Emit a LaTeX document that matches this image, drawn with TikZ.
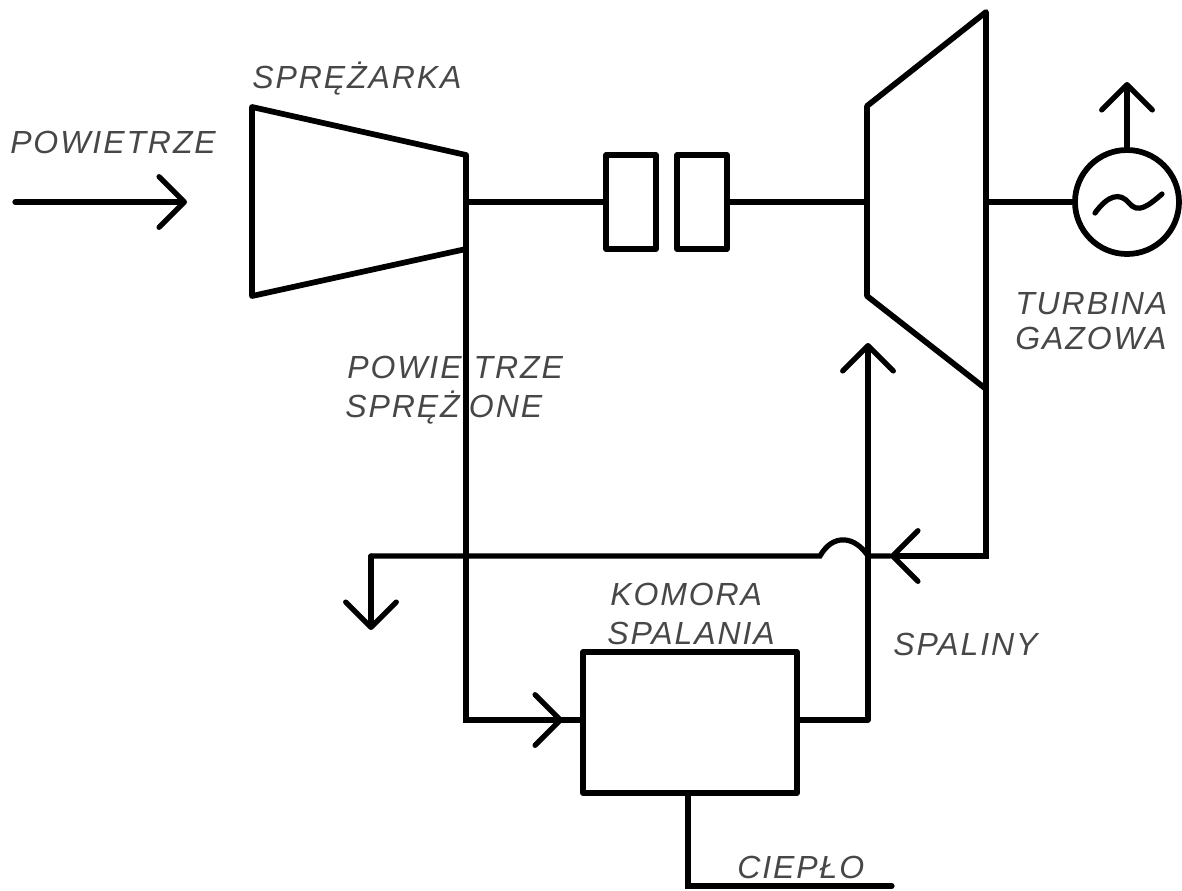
\documentclass[tikz,border=0pt]{standalone}
\usepackage{fontspec}
\usetikzlibrary{arrows.meta}
\newfontfamily\lblfont[ItalicFont={Liberation Sans Italic},LetterSpace=6]{Liberation Sans}
\tikzset{
  pw/.style={line width=4.3pt,line cap=round,line join=round,draw=black},
  thin shaft/.style={line width=3.9pt,line cap=round,draw=black},
  barb/.style={-{Straight Barb[length=19pt,width=38pt,line width=3.9pt,round]}},
  lbl/.style={font=\lblfont\itshape\fontsize{24}{26}\selectfont,text=black!72,inner sep=0pt,anchor=base west},
}
\begin{document}
\begin{tikzpicture}[x=0.75pt,y=-0.75pt]
\useasboundingbox (0,0) rectangle (1182,890);
% labels (below the lines)
\node[lbl] (t1) at (252,88) {SPRĘŻARKA};
\node[lbl] (t2) at (10,153) {POWIETRZE};
\node[lbl] (t3) at (347,378) {POWIE\hspace{9pt}TRZE};
\node[lbl] (t4) at (345,417) {SPRĘŻ\hspace{7pt}ONE};
\node[lbl] (t5) at (1015,314) {TURBINA};
\node[lbl] (t6) at (1015,349) {GAZOWA};
\node[lbl] (t7) at (610,605) {KOMORA};
\node[lbl] (t8) at (607,644) {SPALANIA};
\node[lbl] (t9) at (893,655) {SPALINY};
\node[lbl] (t10) at (737,878) {CIEPŁO};
% compressor
\coordinate (c1) at (252,107);
\coordinate (c2) at (466,155);
\coordinate (c3) at (466,249);
\coordinate (c4) at (252,296);
\draw[pw] (c1) -- (c2) -- (c3) -- (c4) -- cycle;
\coordinate (cs) at (466,202);
% turbine
\coordinate (g1) at (867,106);
\coordinate (g2) at (986,12);
\coordinate (g3) at (986,389);
\coordinate (g4) at (867,296);
\draw[pw] (g1) -- (g2) -- (g3) -- (g4) -- cycle;
\coordinate (gl) at (867,202);
\coordinate (gr) at (986,202);
% clutch boxes
\node[pw,draw,rectangle,inner sep=0pt,minimum width=37.5pt,minimum height=70.5pt] (k1) at (631,202) {};
\node[pw,draw,rectangle,inner sep=0pt,minimum width=37.5pt,minimum height=70.5pt] (k2) at (702,202) {};
% combustor
\node[pw,draw,rectangle,inner sep=0pt,minimum width=160.5pt,minimum height=105.75pt] (kom) at (690,722.5) {};
% generator
\node[pw,draw,circle,inner sep=0pt,minimum size=78pt] (gen) at (1127,202) {};
\draw[thin shaft] (1095,213) .. controls (1108,195) and (1120,192) .. (1129,203) .. controls (1138,214) and (1148,206) .. (1162,194);
% shaft
\draw[thin shaft] (cs) -- (k1.west);
\draw[thin shaft] (k2.east) -- (gl);
\draw[thin shaft] (gr) -- (gen.west);
% generator output
\coordinate (out) at (1127,82);
\draw[thin shaft,barb] (gen.north) -- (out);
% air in
\coordinate (a0) at (15,202);
\coordinate (a1) at (187,202);
\draw[thin shaft,barb] (a0) -- (a1);
% compressed air to combustor
\coordinate (b1) at (466,720);
\coordinate (b2) at (563,720);
\draw[thin shaft] (c3) -- (b1) -- (kom.west |- b1);
\draw[thin shaft,barb] (b1) -- (b2);
% combustor to turbine
\coordinate (d1) at (868,720);
\coordinate (d2) at (868,343);
\draw[thin shaft] (kom.east |- d1) -- (d1);
\draw[thin shaft,barb] (d1) -- (d2);
% exhaust
\coordinate (e1) at (986,556);
\coordinate (e2) at (890,556);
\coordinate (e3) at (868,556);
\coordinate (e4) at (820,556);
\coordinate (e5) at (371,556);
\coordinate (e6) at (371,630);
\draw[thin shaft,barb] (g3) -- (e1) -- (e2);
\draw[thin shaft] (e2) -- (e3) .. controls (855,536) and (833,533) .. (e4) -- (e5);
\draw[thin shaft,barb] (e5) -- (e6);
% heat
\coordinate (h1) at (688,886);
\coordinate (h2) at (892,886);
\draw[thin shaft] (kom.south -| h1) -- (h1) -- (h2);
\end{tikzpicture}
\end{document}
